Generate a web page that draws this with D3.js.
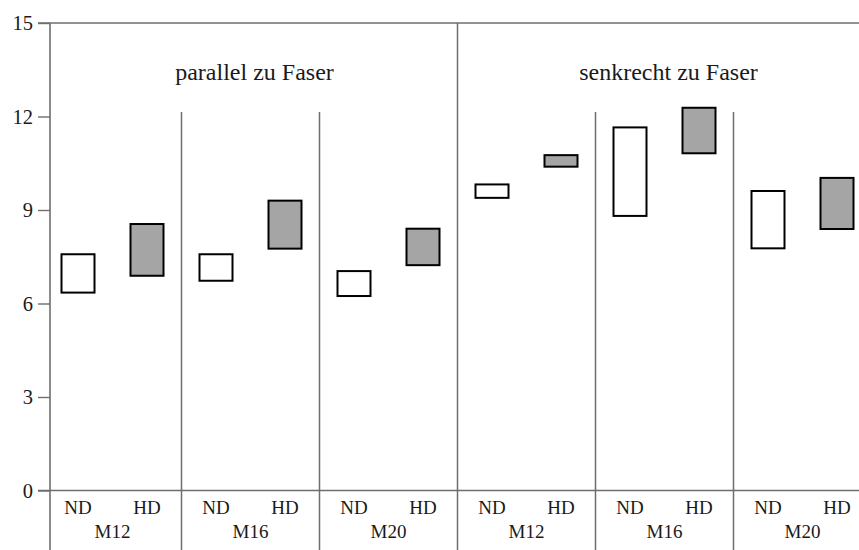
<!DOCTYPE html>
<html>
<head>
<meta charset="utf-8">
<script src="https://cdn.jsdelivr.net/npm/d3@7"></script>
<style>
  html, body { margin: 0; padding: 0; background: #fff; }
  svg { display: block; }
</style>
</head>
<body>
<svg id="chart" width="859" height="550"></svg>
<script>
// Bolt sizes, grouped by load direction relative to the grain
const groups = ["M12", "M16", "M20", "M12", "M16", "M20"];
const directions = ["parallel zu Faser", "senkrecht zu Faser"];
const series = ["ND", "HD"];

// Value ranges (low–high) per group
const ndLow  = [6.35, 6.73, 6.24, 9.39, 8.81, 7.77];
const ndHigh = [7.58, 7.58, 7.04, 9.82, 11.65, 9.61];
const hdLow  = [6.89, 7.76, 7.23, 10.39, 10.82, 8.39];
const hdHigh = [8.55, 9.30, 8.40, 10.76, 12.28, 10.03];

const yTicks = [0, 3, 6, 9, 12, 15];

const W = 859, H = 550;
const axisX = 50, yTop = 23, yBase = 490.5;
const boxW = 33;
const serif = "'Liberation Serif', 'Times New Roman', Times, serif";

const svg = d3.select("#chart").style("font-family", serif);

const y = d3.scaleLinear().domain([0, 15]).range([yBase, yTop]);

const gx = d3.scaleBand().domain(d3.range(groups.length)).range([43.5, 871.5]);
const sx = d3.scalePoint().domain(series).range([0, gx.bandwidth()]).padding(0.5);

const lineColor = "#6e6e6e";

// top frame line and baseline
svg.append("line").attr("x1", 38).attr("x2", W).attr("y1", y(15)).attr("y2", y(15))
  .attr("stroke", lineColor).attr("stroke-width", 1.6);
svg.append("line").attr("x1", 38).attr("x2", W).attr("y1", y(0)).attr("y2", y(0))
  .attr("stroke", lineColor).attr("stroke-width", 1.6);

// y axis
const yAxis = d3.axisLeft(y).tickValues(yTicks).tickSize(12).tickPadding(5).tickFormat(d3.format("d"));
const ya = svg.append("g").attr("transform", `translate(${axisX},0)`).call(yAxis)
  .attr("font-family", null).attr("font-size", null);
ya.select(".domain").remove();
ya.selectAll(".tick line").attr("stroke", lineColor).attr("stroke-width", 1.4);
ya.selectAll(".tick text")
  .style("font-family", serif).style("font-size", "20.5px").attr("fill", "#1a1a1a");
svg.append("line").attr("x1", axisX).attr("x2", axisX).attr("y1", y(15)).attr("y2", H)
  .attr("stroke", lineColor).attr("stroke-width", 1.6);

// group separators: the one between directions spans full height
d3.range(1, groups.length).forEach(i => {
  const x = gx(i);
  const full = (i === 3);
  svg.append("line").attr("x1", x).attr("x2", x)
    .attr("y1", full ? y(15) : 112).attr("y2", H)
    .attr("stroke", lineColor).attr("stroke-width", 1.5);
});

// direction titles, centred over each half
directions.forEach((t, k) => {
  const x0 = gx(k * 3), x1 = gx(k * 3 + 2) + gx.bandwidth();
  svg.append("text").attr("x", (x0 + x1) / 2 + 4).attr("y", 80)
    .attr("text-anchor", "middle")
    .style("font-family", serif).style("font-size", "24px").attr("fill", "#1a1a1a")
    .text(t);
});

// range boxes
const boxes = [];
groups.forEach((g, i) => {
  boxes.push({ i, s: "ND", lo: ndLow[i], hi: ndHigh[i] });
  boxes.push({ i, s: "HD", lo: hdLow[i], hi: hdHigh[i] });
});
svg.append("g").selectAll("rect").data(boxes).join("rect")
  .attr("x", d => gx(d.i) + sx(d.s) - boxW / 2)
  .attr("width", boxW)
  .attr("y", d => y(d.hi))
  .attr("height", d => y(d.lo) - y(d.hi))
  .attr("fill", d => d.s === "HD" ? "#a5a5a5" : "#ffffff")
  .attr("stroke", "#000").attr("stroke-width", 2);

// category labels
const lab = svg.append("g");
groups.forEach((g, i) => {
  series.forEach(s => {
    lab.append("text").attr("x", gx(i) + sx(s)).attr("y", 514)
      .attr("text-anchor", "middle")
      .style("font-family", serif).style("font-size", "19px").attr("fill", "#1a1a1a")
      .text(s);
  });
  lab.append("text").attr("x", gx(i) + gx.bandwidth() / 2).attr("y", 538)
    .attr("text-anchor", "middle")
    .style("font-family", serif).style("font-size", "19px").attr("fill", "#1a1a1a")
    .text(g);
});
</script>
</body>
</html>
